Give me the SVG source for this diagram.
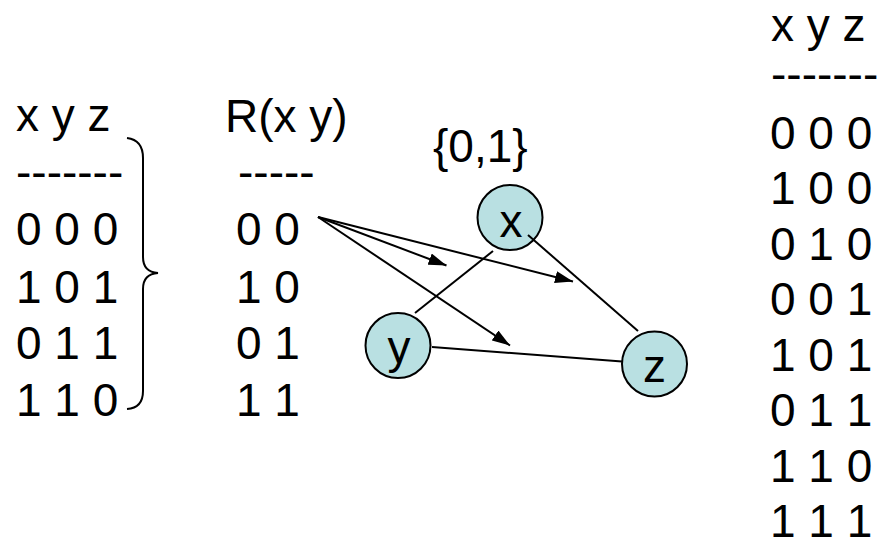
<svg xmlns="http://www.w3.org/2000/svg" width="888" height="555" viewBox="0 0 888 555">
<style>
text{font-family:"Liberation Sans",Arial,sans-serif;font-size:46px;fill:#000}
.node circle{fill:#B9E0E2;stroke:#000;stroke-width:2}
.node text{text-anchor:middle}
.edge{stroke:#000;stroke-width:2;fill:none}
</style>
<defs>
<marker id="ah" markerUnits="userSpaceOnUse" markerWidth="18" markerHeight="12" refX="18" refY="6" orient="auto">
<path d="M0,0 L18,6 L0,12 z" fill="#000"/>
</marker>
</defs>
<rect width="888" height="555" fill="#fff"/>
<g id="table-left">
<text x="16" y="131">x y z</text>
<text x="16" y="188">-------</text>
<text x="16" y="245">0 0 0</text>
<text x="16" y="303">1 0 1</text>
<text x="16" y="359">0 1 1</text>
<text x="16" y="416">1 1 0</text>
<path class="edge" d="M127,138 Q143,140 143,158 L143,257 Q143,272 158,273 Q143,274 143,289 L143,391 Q143,408 127,409"/>
</g>
<g id="table-r">
<text x="225" y="132">R(x y)</text>
<text x="238" y="188">-----</text>
<text x="236" y="245">0 0</text>
<text x="236" y="303">1 0</text>
<text x="236" y="359">0 1</text>
<text x="236" y="416">1 1</text>
</g>
<g id="domain-label">
<text x="433" y="162">{0,1}</text>
</g>
<g id="table-right">
<text x="771" y="41">x y z</text>
<text x="771" y="90">-------</text>
<text x="770" y="149">0 0 0</text>
<text x="770" y="204">1 0 0</text>
<text x="770" y="260">0 1 0</text>
<text x="770" y="315">0 0 1</text>
<text x="770" y="371">1 0 1</text>
<text x="770" y="426">0 1 1</text>
<text x="770" y="482">1 1 0</text>
<text x="770" y="537">1 1 1</text>
</g>
<g id="node-x" class="node">
<circle cx="510" cy="217.5" r="32.5"/>
<text x="511" y="237">x</text>
</g>
<g id="node-y" class="node">
<circle cx="398" cy="345.5" r="32.5"/>
<text x="399" y="363">y</text>
</g>
<g id="node-z" class="node">
<circle cx="654.5" cy="364" r="32.5"/>
<text x="654.5" y="382">z</text>
</g>
<g id="connectors">
<line class="edge" x1="493" y1="251" x2="415" y2="313"/>
<line class="edge" x1="528" y1="235" x2="638" y2="331"/>
<line class="edge" x1="432" y1="347" x2="622" y2="361.5"/>
<line class="edge" x1="318" y1="217" x2="446.5" y2="265.5" marker-end="url(#ah)"/>
<line class="edge" x1="318" y1="217" x2="573" y2="281.5" marker-end="url(#ah)"/>
<line class="edge" x1="318" y1="217" x2="510" y2="345.5" marker-end="url(#ah)"/>
</g>
</svg>
